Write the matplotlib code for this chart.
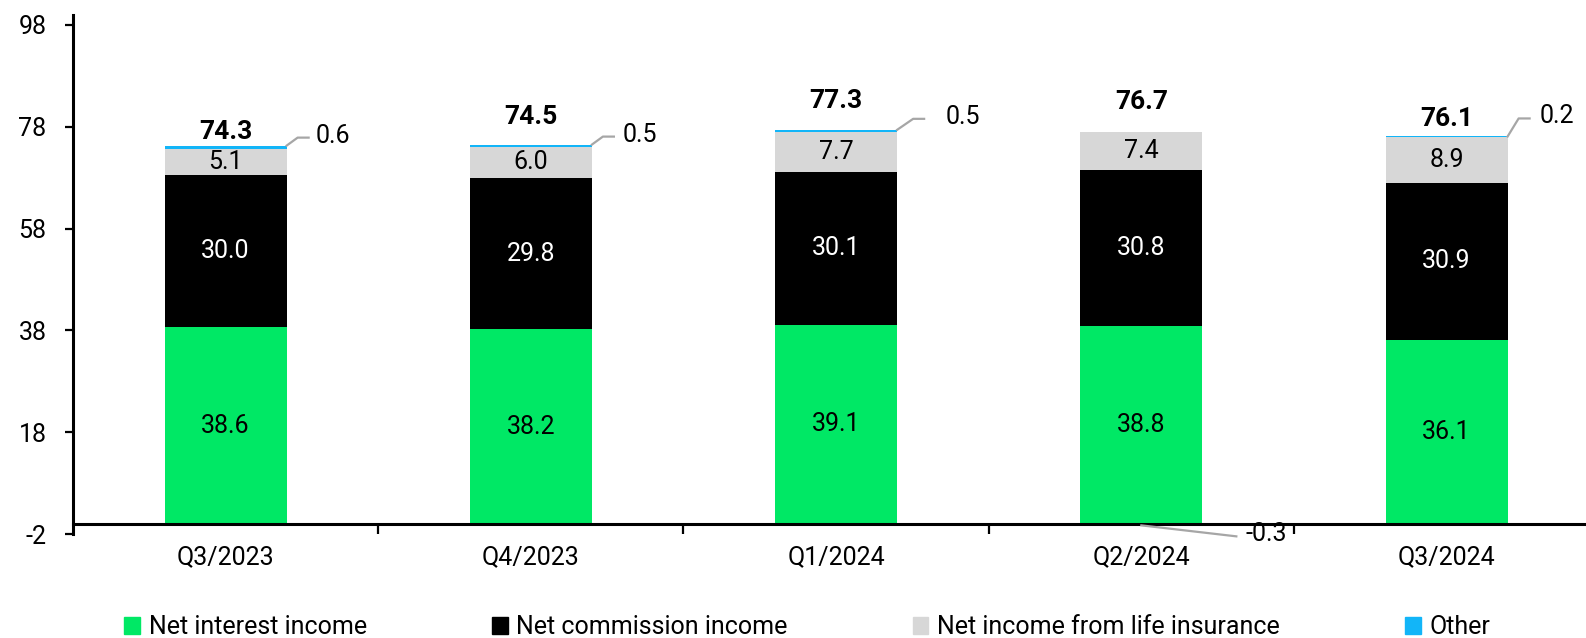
import numpy as np
import matplotlib.pyplot as plt
from matplotlib.lines import Line2D
from matplotlib.patches import Patch
from matplotlib.transforms import IdentityTransform

plt.rcParams['font.family'] = ['Roboto', 'DejaVu Sans']
plt.rcParams['axes.unicode_minus'] = False

# quarterly income split (EUR bn)
quarters = ['Q3/2023', 'Q4/2023', 'Q1/2024', 'Q2/2024', 'Q3/2024']
net_interest = [38.6, 38.2, 39.1, 38.8, 36.1]
net_commission = [30.0, 29.8, 30.1, 30.8, 30.9]
life_insurance = [5.1, 6.0, 7.7, 7.4, 8.9]
other = [0.6, 0.5, 0.5, -0.3, 0.2]
totals = [74.3, 74.5, 77.3, 76.7, 76.1]

series_names = ['Net interest income', 'Net commission income',
                'Net income from life insurance', 'Other']
colors = ['#00E865', '#000000', '#D7D7D7', '#12B5F8']
y_ticks = [-2, 18, 38, 58, 78, 98]

# label placement tweaks, in pixels
total_lift = [14, 28, 29, 30, 17]
other_elbow = [(11, 8), (11, 8), (16, 11), (95, -11), (11, 18)]
other_text_dx = [29, 31, 48, 104, 32]

fig = plt.figure(figsize=(15.86, 6.38), dpi=100)
ax = fig.add_axes([0.046, 0.163, 0.9527, 0.8138])

x = np.arange(len(quarters))
width = 0.4
layers = [net_interest, net_commission, life_insurance, other]
pos_base = np.zeros(len(x))
neg_base = np.zeros(len(x))
for vals, col, name in zip(layers, colors, series_names):
    vals = np.array(vals)
    base = np.where(vals >= 0, pos_base, neg_base)
    ax.bar(x, vals, width, bottom=base, color=col, label=name, zorder=1)
    pos_base = pos_base + np.clip(vals, 0, None)
    neg_base = neg_base + np.clip(vals, None, 0)

# values inside the segments
bottom = np.zeros(len(x))
for vals, txt_col in zip(layers[:3], ['black', 'white', 'black']):
    for i, v in enumerate(vals):
        ax.text(x[i], bottom[i] + v / 2, f'{v:.1f}', ha='center', va='center',
                fontsize=18, color=txt_col)
    bottom = bottom + np.array(vals)

ax.set_xlim(-0.5, 4.45)
ax.set_ylim(-2, 100)

# totals above each bar
for i, t in enumerate(totals):
    ax.annotate(f'{t:.1f}', xy=(x[i], pos_base[i]), xytext=(0, total_lift[i]),
                textcoords='offset pixels', ha='center', va='center',
                fontsize=19, fontweight='bold')

# leader lines for the small "other" values
for i, v in enumerate(other):
    ex, ey = other_elbow[i]
    if v >= 0:
        x0, y0 = ax.transData.transform((x[i] + width / 2, pos_base[i]))
        xs = [x0, x0 + ex, x0 + ex + 11]
        ys = [y0, y0 + ey, y0 + ey]
    else:
        x0, y0 = ax.transData.transform((x[i], neg_base[i]))
        xs = [x0, x0 + ex]
        ys = [y0, y0 + ey]
    fig.add_artist(Line2D(xs, ys, transform=IdentityTransform(),
                          color='#A6A6A6', lw=1.6))
    fig.text(x0 + other_text_dx[i], y0 + ey + 2, f'{v:.1f}',
             transform=IdentityTransform(), ha='left', va='center', fontsize=18)

# axes styling
for s in ['top', 'right']:
    ax.spines[s].set_visible(False)
ax.spines['bottom'].set_position(('data', 0))
ax.spines['bottom'].set_linewidth(2.2)
ax.spines['left'].set_linewidth(2.2)
ax.spines['bottom'].set_zorder(3)

ax.set_yticks(y_ticks)
ax.tick_params(axis='y', length=6, width=1.6, pad=13, labelsize=18)
ax.set_xticks(x)
ax.set_xticklabels(quarters)
ax.set_xticks(x[:-1] + 0.5, minor=True)
ax.tick_params(axis='x', which='major', length=0, pad=15.5, labelsize=18)
ax.tick_params(axis='x', which='minor', length=7, width=1.6)

handles = [Patch(color=c, label=n) for c, n in zip(colors, series_names)]
fig.legend(handles=handles, loc='center', bbox_to_anchor=(0.509, 0.017), ncol=4,
           frameon=False, fontsize=18, handlelength=0.63, handleheight=0.63,
           handletextpad=0.35, columnspacing=5.0, borderpad=0)

fig.savefig('out.png', dpi=100)
